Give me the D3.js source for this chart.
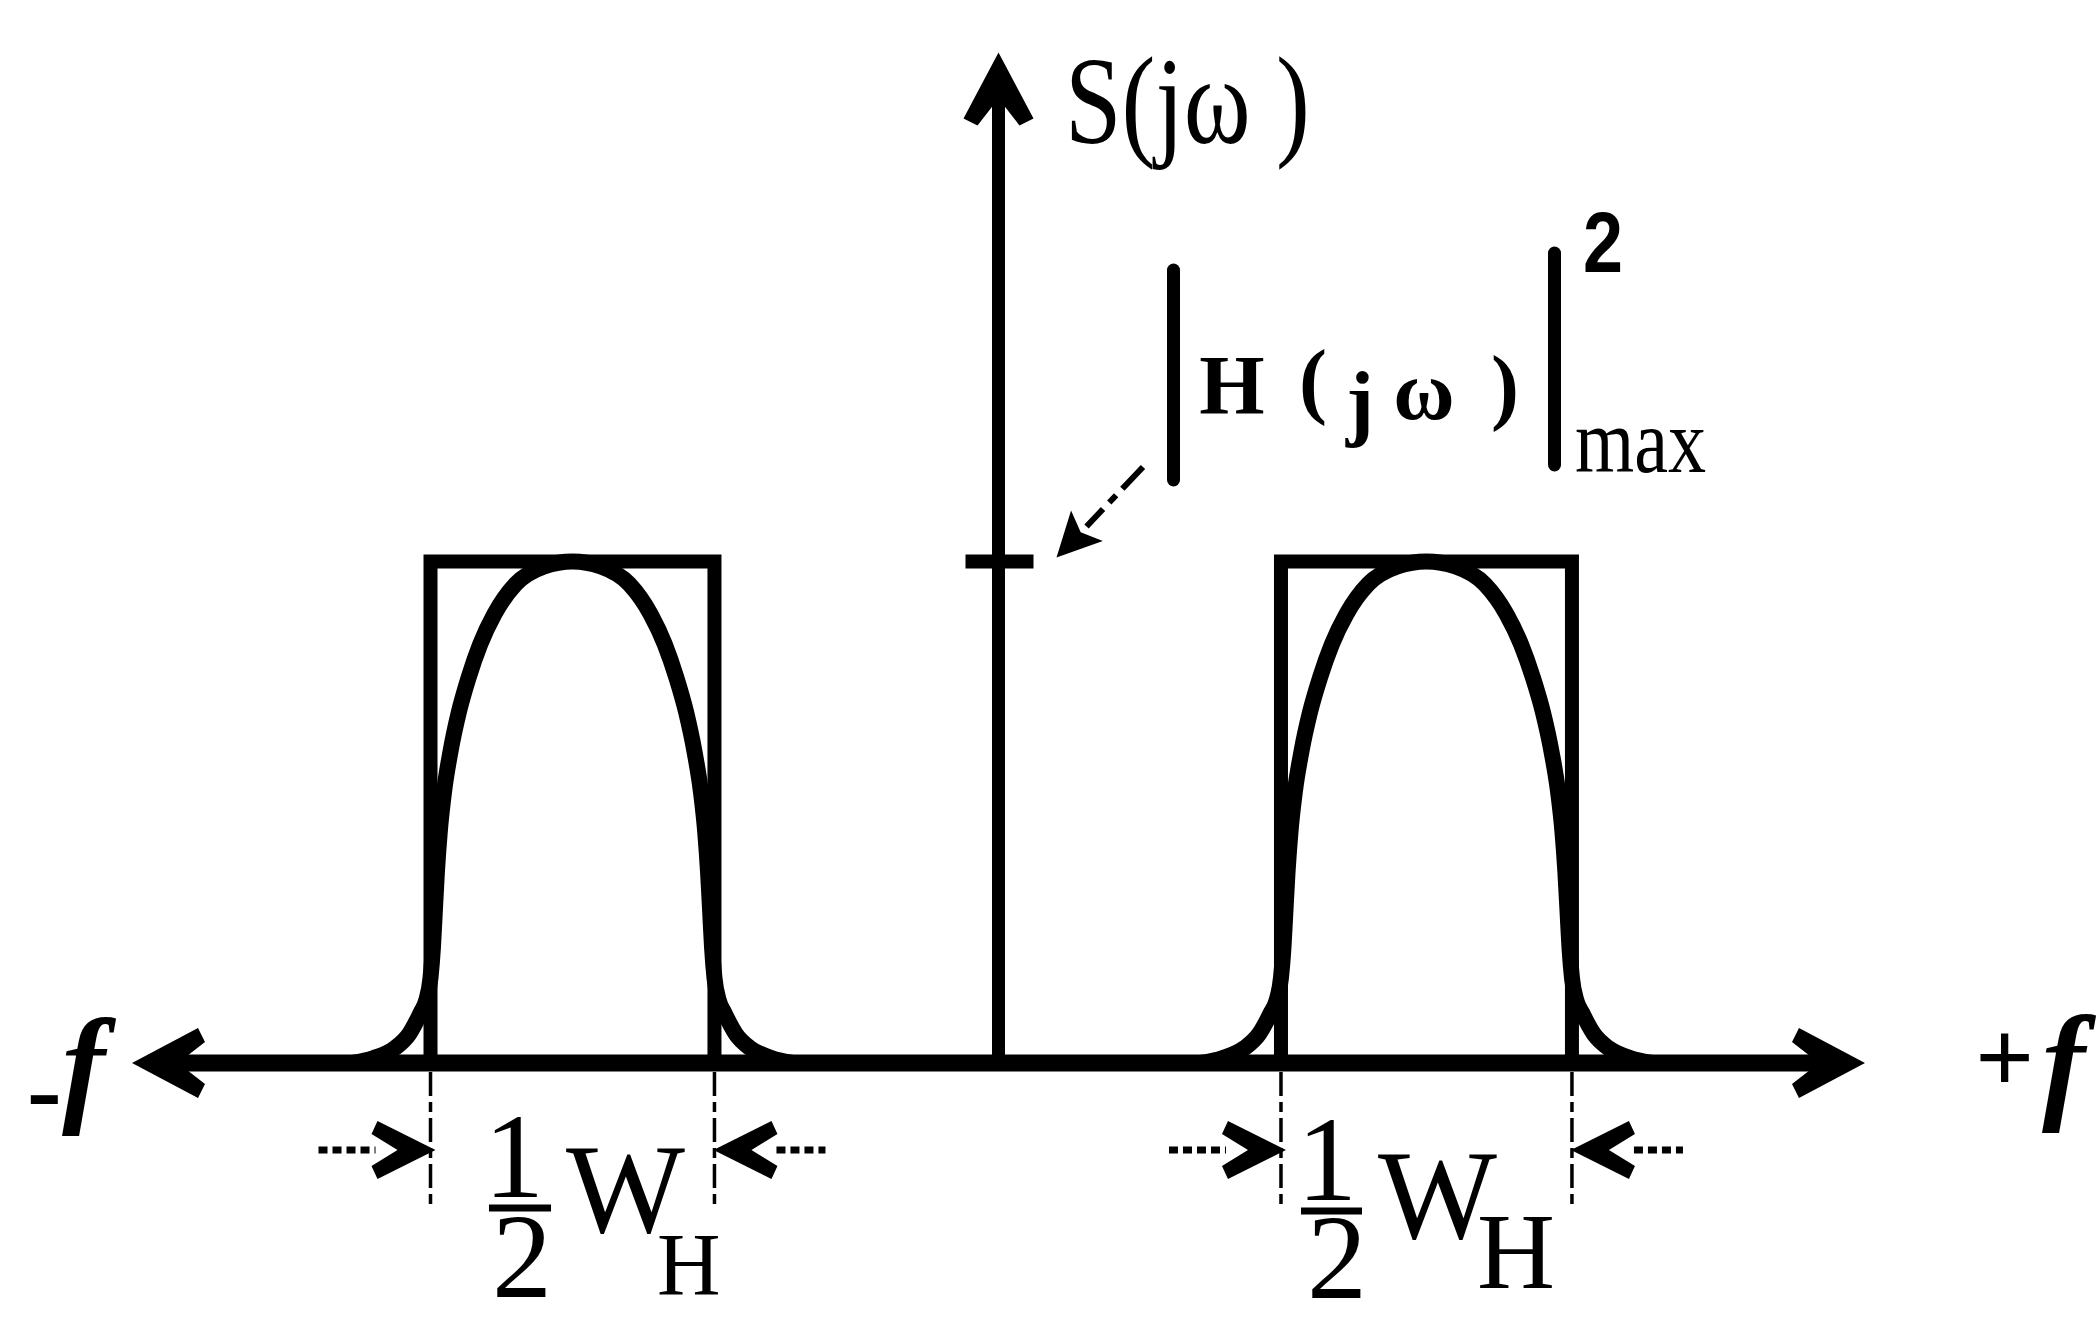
<!DOCTYPE html>
<html><head><meta charset="utf-8">
<script src="https://cdn.jsdelivr.net/npm/d3@7"></script>
<style>html,body{margin:0;padding:0;background:#fff;} svg{display:block;}</style>
</head><body>
<svg id="chart" width="2100" height="1324"></svg>
<script>
// ---------- data ----------
// pass-band edges on a normalised frequency axis (-1 .. +1), 0 = DC
const bandLow  = [-0.6555, 0.3260];
const bandHigh = [-0.3278, 0.6618];
// ideal (rectangular) level = |H(jw)|^2 max
const bandLevel = [1, 1];
// actual filter response: offset from band centre in half-band-widths, and level
const shapeOffset = [-1.55,-1.40,-1.25,-1.15,-1.07,-1.03,-1.0,-0.983,-0.97,-0.955,-0.935,-0.905,-0.86,-0.80,-0.73,-0.65,-0.55,-0.4,-0.2,0,
                      0.2,0.4,0.55,0.65,0.73,0.80,0.86,0.905,0.935,0.955,0.97,0.983,1.0,1.03,1.07,1.15,1.25,1.40,1.55];
const shapeLevel  = [0,0.01,0.03,0.058,0.10,0.125,0.17,0.23,0.30,0.38,0.46,0.54,0.62,0.70,0.77,0.835,0.895,0.955,0.99,1,
                      0.99,0.955,0.895,0.835,0.77,0.70,0.62,0.54,0.46,0.38,0.30,0.23,0.17,0.125,0.10,0.058,0.03,0.01,0];
const markerLevel = 1;          // tick on the vertical axis
const yAxisTop = 2.015;         // top of the vertical axis
const yAxisLabel = "S(jω )";
const markerLabelParts = ["H", "(", "j", "ω", ")"];
const markerExponent = "2";
const markerSubscript = "max";
const xNegLabel = ["-", "f"];
const xPosLabel = ["+", "f"];
const widthFraction = ["1", "2"];
const widthSymbol = "W";
const widthSubscript = "H";

// ---------- drawing ----------
const svg = d3.select("#chart");
const x = d3.scaleLinear().domain([-1, 1]).range([132, 1865]);
const y = d3.scaleLinear().domain([0, 1]).range([1063, 561.5]);
const ink = "#000";
const serif = "'Liberation Serif', 'Times New Roman', serif";

function arrowHead(tx, ty, dx, dy, shape) {
  const len = Math.hypot(dx, dy); dx /= len; dy /= len;
  const nx = -dy, ny = dx;
  const pts = shape.map(([b, p]) => [tx - b * dx + p * nx, ty - b * dy + p * ny]);
  return "M" + pts.map(p => p.join(",")).join("L") + "Z";
}
const bigHead = [[0,0],[66,-35],[73,-21],[46,0],[73,21],[66,35]];
const smallHead = [[0,0],[58,-29],[64,-16],[38,0],[64,16],[58,29]];

// horizontal axis
svg.append("line").attr("x1", x(-1) + 20).attr("x2", x(1) - 20)
  .attr("y1", y(0)).attr("y2", y(0)).attr("stroke", ink).attr("stroke-width", 17);
svg.append("path").attr("d", arrowHead(x(-1), y(0), -1, 0, bigHead)).attr("fill", ink);
svg.append("path").attr("d", arrowHead(x(1), y(0), 1, 0, bigHead)).attr("fill", ink);

// vertical axis
svg.append("line").attr("x1", x(0)).attr("x2", x(0))
  .attr("y1", y(0)).attr("y2", y(yAxisTop) + 20).attr("stroke", ink).attr("stroke-width", 13);
svg.append("path").attr("d", arrowHead(x(0), y(yAxisTop), 0, -1, bigHead)).attr("fill", ink);

// tick at |H|max^2
svg.append("line").attr("x1", x(0) - 33).attr("x2", x(0) + 35)
  .attr("y1", y(markerLevel)).attr("y2", y(markerLevel)).attr("stroke", ink).attr("stroke-width", 14);

// ideal rectangles
const bands = bandLow.map((lo, i) => ({lo, hi: bandHigh[i], level: bandLevel[i]}));
svg.selectAll("rect.band").data(bands).enter().append("rect").attr("class", "band")
  .attr("x", d => x(d.lo)).attr("width", d => x(d.hi) - x(d.lo))
  .attr("y", d => y(d.level)).attr("height", d => y(0) - y(d.level))
  .attr("fill", "none").attr("stroke", ink).attr("stroke-width", 14);

// actual responses
const line = d3.line().x(d => x(d[0])).y(d => y(d[1])).curve(d3.curveMonotoneX);
svg.selectAll("path.resp").data(bands).enter().append("path").attr("class", "resp")
  .attr("d", d => {
    const c = (d.lo + d.hi) / 2, h = (d.hi - d.lo) / 2;
    return line(shapeOffset.map((u, k) => [c + u * h, shapeLevel[k] * d.level]));
  })
  .attr("fill", "none").attr("stroke", ink).attr("stroke-width", 16).attr("stroke-linejoin", "round");

// dashed guides + width arrows
const guideBottom = 1210, arrowY = 1150;
bands.forEach(d => {
  [d.lo, d.hi].forEach(e => {
    svg.append("line").attr("x1", x(e)).attr("x2", x(e)).attr("y1", y(0) + 9).attr("y2", guideBottom)
      .attr("stroke", ink).attr("stroke-width", 3.5).attr("stroke-dasharray", "24,6,10,6");
  });
  const tL = x(d.lo) + 5, tR = x(d.hi) - 1;
  svg.append("path").attr("d", arrowHead(tL, arrowY, 1, 0, smallHead)).attr("fill", ink);
  svg.append("path").attr("d", arrowHead(tR, arrowY, -1, 0, smallHead)).attr("fill", ink);
  svg.append("line").attr("x1", tL - 117).attr("x2", tL - 60).attr("y1", arrowY).attr("y2", arrowY)
    .attr("stroke", ink).attr("stroke-width", 7).attr("stroke-dasharray", "9,5");
  svg.append("line").attr("x1", tR + 63).attr("x2", tR + 112).attr("y1", arrowY).attr("y2", arrowY)
    .attr("stroke", ink).attr("stroke-width", 7).attr("stroke-dasharray", "9,5");
});

// width labels (1/2 W_H)
const wl = [
  {one: 514, base1: 1197, bar: [489, 551, 1208], two: 522, base2: 1297, wx: 566, wb: 1232, hx: 657, hb: 1294, hs: 88},
  {one: 1327, base1: 1200, bar: [1301, 1362, 1211], two: 1337, base2: 1298, wx: 1378, wb: 1238, hx: 1477, hb: 1288, hs: 108}
];
wl.forEach(p => {
  const fr = svg.append("text").attr("font-family", serif).attr("font-size", 120).attr("text-anchor", "middle");
  fr.append("tspan").attr("x", p.one).attr("y", p.base1).text(widthFraction[0]);
  fr.append("tspan").attr("x", p.two).attr("y", p.base2).text(widthFraction[1]);
  svg.append("line").attr("x1", p.bar[0]).attr("x2", p.bar[1]).attr("y1", p.bar[2]).attr("y2", p.bar[2])
    .attr("stroke", ink).attr("stroke-width", 7);
  const w = svg.append("text").attr("font-family", serif).attr("font-size", 126);
  w.append("tspan").attr("x", p.wx).attr("y", p.wb).text(widthSymbol);
  w.append("tspan").attr("x", p.hx).attr("y", p.hb).attr("font-size", p.hs).text(widthSubscript);
});

// axis end labels
const neg = svg.append("text").attr("font-family", serif);
neg.append("tspan").attr("x", 27).attr("y", 1124).attr("font-weight", "bold").attr("font-size", 104).text(xNegLabel[0]);
neg.append("tspan").attr("x", 62).attr("y", 1108).attr("font-style", "italic").attr("font-weight", "bold")
  .attr("font-size", 130).text(xNegLabel[1]);
const pos = svg.append("text").attr("font-family", serif);
pos.append("tspan").attr("x", 1975).attr("y", 1092).attr("font-weight", "bold").attr("font-size", 104).text(xPosLabel[0]);
pos.append("tspan").attr("x", 2042).attr("y", 1105).attr("font-style", "italic").attr("font-weight", "bold")
  .attr("font-size", 130).text(xPosLabel[1]);

// vertical axis label
svg.append("text").attr("x", 1065).attr("y", 143).attr("font-family", serif).attr("font-size", 125)
  .attr("textLength", 245).attr("lengthAdjust", "spacingAndGlyphs").text(yAxisLabel);

// |H(jw)|^2 max annotation
svg.append("line").attr("x1", 1173.5).attr("x2", 1173.5).attr("y1", 270).attr("y2", 480)
  .attr("stroke", ink).attr("stroke-width", 13).attr("stroke-linecap", "round");
svg.append("line").attr("x1", 1554.5).attr("x2", 1554.5).attr("y1", 253).attr("y2", 465)
  .attr("stroke", ink).attr("stroke-width", 13).attr("stroke-linecap", "round");
const partPos = [[1232, 414], [1313, 408], [1360, 430], [1424, 419], [1505, 414]];
markerLabelParts.forEach((t, i) => {
  svg.append("text").attr("x", partPos[i][0]).attr("y", partPos[i][1]).attr("text-anchor", "middle")
    .attr("font-family", serif).attr("font-weight", "bold").attr("font-size", 84).text(t);
});
svg.append("text").attr("x", 1583).attr("y", 272).attr("font-family", "'Liberation Sans', Arial, sans-serif")
  .attr("font-weight", "bold").attr("font-size", 86).attr("textLength", 40)
  .attr("lengthAdjust", "spacingAndGlyphs").text(markerExponent);
svg.append("text").attr("x", 1575).attr("y", 472).attr("font-family", serif).attr("font-size", 90)
  .attr("textLength", 131).attr("lengthAdjust", "spacingAndGlyphs").text(markerSubscript);

// dashed pointer to the tick
const tipX = x(0) + 58, tipY = y(markerLevel) - 4;
svg.append("line").attr("x1", 1143).attr("y1", 467).attr("x2", tipX + 30).attr("y2", tipY - 31)
  .attr("stroke", ink).attr("stroke-width", 6).attr("stroke-dasharray", "30,9,10,9");
svg.append("path").attr("d", arrowHead(tipX, tipY, -0.69, 0.72, [[0,0],[44,-22],[35,0],[44,22]])).attr("fill", ink);
</script>
</body></html>
